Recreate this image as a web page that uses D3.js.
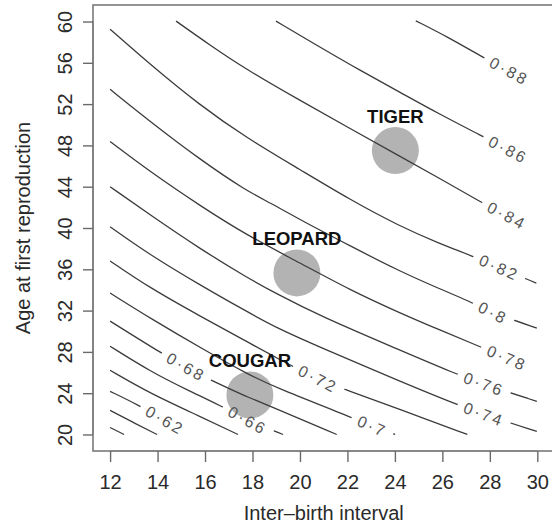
<!DOCTYPE html>
<html><head><meta charset="utf-8">
<script src="https://cdn.jsdelivr.net/npm/d3@7"></script>
<style>html,body{margin:0;padding:0;background:#fff}</style>
</head><body><svg id="chart" width="552" height="525"></svg>
<script>
// ---- data ----
const xTickVals = [12,14,16,18,20,22,24,26,28,30];
const yTickVals = [20,24,28,32,36,40,44,48,52,56,60];

const c058 = [[12,20.68],[12.59,20]];
const c060 = [[12,22.33],[12.97,21.17],[13.98,20]];
const c062 = [[12,24.18],[13.14,22.92],[14.31,21.36],[15.00,20.45]];
const c064 = [[12,26.22],[13.68,23.98],[15.79,21.75],[17.39,20]];
const c066 = [[12,28.55],[13.68,26.12],[15.37,24.18],[16.63,22.82],[17.79,21.36],[19.29,20]];
const c068 = [[12,30.98],[14.02,28.07],[15.20,26.51],[16.42,25.05],[17.73,23.69],[18.95,22.53],[21.55,20]];
const c070 = [[12,33.70],[13.68,31.27],[16.13,27.97],[17.73,25.93],[18.95,24.57],[21.98,21.85],[23.04,20.78],[24.01,20]];
const c072 = [[12,36.81],[13.68,34.19],[15.79,31.47],[17.73,29.04],[18.95,27.48],[20.76,25.35],[21.98,24.28],[24.22,22.43],[27.05,20]];
const c074 = [[12,40.12],[13.68,37.40],[15.79,34.48],[17.73,31.95],[18.95,30.40],[20.85,28.45],[24.22,25.15],[26.49,23.01],[27.75,21.94],[29.98,20.29]];
const c076 = [[12,44.00],[13.68,41.28],[15.79,37.98],[17.73,35.26],[18.95,33.70],[20.85,31.47],[24.22,28.16],[26.49,25.93],[27.75,24.86],[29.98,23.21]];
const c078 = [[12,48.38],[13.68,45.46],[15.79,42.16],[17.73,39.34],[20.00,36.62],[22.11,33.99],[24.22,31.76],[25.90,30.11],[27.54,28.55],[28.72,27.39],[29.78,26.41]];
const c080 = [[12,53.43],[13.68,50.32],[15.79,46.63],[17.73,43.62],[18.74,42.45],[20.00,40.80],[22.11,38.27],[24.17,35.84],[25.90,34.09],[27.12,32.93],[28.13,31.76],[29.98,30.30]];
const c082 = [[12,59.26],[13.68,55.86],[15.79,51.88],[17.73,48.76],[20.00,45.66],[22.11,42.74],[24.17,40.21],[25.90,38.47],[27.25,37.30],[28.39,36.14],[29.96,34.67]];
const c084 = [[14.78,60.04],[16.21,57.71],[17.73,55.37],[20.00,52.36],[22.11,49.64],[24.01,47.21],[25.90,44.78],[27.59,42.55],[28.72,41.18],[29.70,40.10]];
const c086 = [[18.99,60.04],[20.85,57.51],[22.53,55.27],[24.22,53.14],[25.90,51.00],[27.63,48.96],[28.77,47.60],[29.70,46.50]];
const c088 = [[24.88,60.07],[26.24,58.48],[27.63,56.63],[28.81,55.18],[29.70,54.10]];

const contourLevels = [0.58,0.60,0.62,0.64,0.66,0.68,0.70,0.72,0.74,0.76,0.78,0.80,0.82,0.84,0.86,0.88];
const contourPoints = [c058,c060,c062,c064,c066,c068,c070,c072,c074,c076,c078,c080,c082,c084,c086,c088];

const labelLevels = [0.62,0.66,0.68,0.70,0.72,0.74,0.76,0.78,0.80,0.82,0.84,0.86,0.88];
const labelX      = [14.31,17.79,15.20,23.04,20.76,27.75,27.75,28.72,28.13,28.39,28.72,28.77,28.81];
const labelY      = [21.36,21.36,26.51,20.78,25.35,21.94,24.86,27.39,31.76,36.14,41.18,47.55,55.18];

const animalNames = ["COUGAR","LEOPARD","TIGER"];
const animalX = [17.89,19.87,24.02];
const animalY = [23.83,35.65,47.50];

// ---- layout ----
const svg = d3.select("#chart");
const x = d3.scaleLinear().domain([11.28,30.72]).range([93,554.4]);
const y = d3.scaleLinear().domain([18.4,61.6]).range([451,5]);
const defs = svg.append("defs");
const FONT = "'Liberation Sans', Arial, Helvetica, sans-serif";

svg.append("rect").attr("width",552).attr("height",525).attr("fill","#fff");

// animal circles
svg.append("g").selectAll("circle").data(animalNames).join("circle")
  .attr("cx",(d,i)=>x(animalX[i])).attr("cy",(d,i)=>y(animalY[i]))
  .attr("r",23.5).attr("fill","#b3b3b3");

const contourG = svg.append("g");
const labelG = svg.append("g");

// contour labels (measure first)
const labelInfo = labelLevels.map((lv,i)=>{
  const pts = contourPoints[contourLevels.findIndex(l=>Math.abs(l-lv)<1e-9)];
  const lx = labelX[i], ly = labelY[i];
  let k = 0;
  while (k < pts.length-2 && pts[k+1][0] < lx) k++;
  const dx = x(pts[k+1][0])-x(pts[k][0]), dy = y(pts[k+1][1])-y(pts[k][1]);
  const ang = Math.atan2(dy,dx)*180/Math.PI;
  const t = labelG.append("text")
    .attr("transform",`translate(${x(lx)},${y(ly)}) rotate(${ang})`)
    .attr("text-anchor","middle").attr("dominant-baseline","central")
    .attr("font-family",FONT).attr("font-size",16).attr("letter-spacing","2.5px")
    .attr("fill","#555")
    .text(String(lv).replace(".","\u00b7"));
  const len = t.node().getComputedTextLength();
  return {lv, px:x(lx), py:y(ly), ang, len};
});

// masks with gaps for labels
contourLevels.forEach((lv,i)=>{
  const m = defs.append("mask").attr("id","m"+i).attr("maskUnits","userSpaceOnUse")
    .attr("x",0).attr("y",0).attr("width",552).attr("height",525);
  m.append("rect").attr("width",552).attr("height",525).attr("fill","#fff");
  labelInfo.filter(L=>Math.abs(L.lv-lv)<1e-9).forEach(L=>{
    const w = L.len + 14;
    m.append("rect").attr("x",-w/2).attr("y",-11).attr("width",w).attr("height",22)
      .attr("fill","#000").attr("transform",`translate(${L.px},${L.py}) rotate(${L.ang})`);
  });
});

const line = d3.line().x(d=>x(d[0])).y(d=>y(d[1])).curve(d3.curveBasis);
contourG.selectAll("path").data(contourPoints).join("path")
  .attr("d",line).attr("fill","none").attr("stroke","#3c3c3c").attr("stroke-width",1.3)
  .attr("mask",(d,i)=>`url(#m${i})`);

// animal labels
svg.append("g").selectAll("text").data(animalNames).join("text")
  .attr("x",(d,i)=>x(animalX[i])).attr("y",(d,i)=>y(animalY[i])-28)
  .attr("text-anchor","middle").attr("font-family",FONT).attr("font-weight","bold")
  .attr("font-size",18.5).attr("fill","#111").text(d=>d);

// box
svg.append("rect").attr("x",93).attr("y",5).attr("width",461.4).attr("height",446)
  .attr("fill","none").attr("stroke","#7a7a7a").attr("stroke-width",1.6);

// axes
const xa = svg.append("g").attr("transform","translate(0,451)")
  .call(d3.axisBottom(x).tickValues(xTickVals).tickSize(11).tickSizeOuter(0));
xa.select(".domain").attr("stroke","#7a7a7a").attr("stroke-width",1.2)
  .attr("d",`M${x(12)},0H${x(30)}`);
xa.selectAll(".tick line").attr("stroke","#6a6a6a").attr("stroke-width",1.4);
xa.selectAll(".tick text").attr("y",38).attr("dy",0).attr("font-size",20)
  .attr("font-family",FONT).attr("fill","#2a2a2a");

const ya = svg.append("g").attr("transform","translate(93,0)")
  .call(d3.axisLeft(y).tickValues(yTickVals).tickSize(10).tickSizeOuter(0));
ya.select(".domain").attr("stroke","#7a7a7a").attr("stroke-width",1.2)
  .attr("d",`M0,${y(20)}V${y(60)}`);
ya.selectAll(".tick line").attr("stroke","#6a6a6a").attr("stroke-width",1.4);
ya.selectAll(".tick text").attr("x",0).attr("y",0).attr("dy",0)
  .attr("text-anchor","middle").attr("transform","translate(-21.5,0) rotate(-90)")
  .attr("font-size",20).attr("font-family",FONT).attr("fill","#2a2a2a");

// titles
svg.append("text").attr("x",(93+554.4)/2).attr("y",520).attr("text-anchor","middle")
  .attr("font-family",FONT).attr("font-size",20).attr("fill","#2a2a2a")
  .text("Inter\u2013birth interval");
svg.append("text").attr("transform",`translate(30,228) rotate(-90)`).attr("text-anchor","middle")
  .attr("font-family",FONT).attr("font-size",20).attr("fill","#2a2a2a")
  .text("Age at first reproduction");
</script></body></html>
